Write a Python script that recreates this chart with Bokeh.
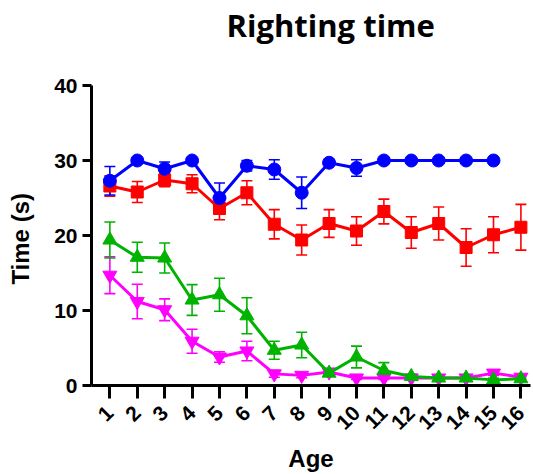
from bokeh.plotting import figure
from bokeh.models import (Range1d, FixedTicker, ColumnDataSource, Whisker, TeeHead, LinearAxis)
from bokeh.embed import file_html
from bokeh.resources import INLINE
import math

# ---- data ----
ages = [1, 2, 3, 4, 5, 6, 7, 8, 9, 10, 11, 12, 13, 14, 15, 16]

blue_ages = ages[:15]
blue = [27.3, 30.0, 28.9, 30.0, 25.0, 29.3, 28.8, 25.7, 29.7, 29.0, 30.0, 30.0, 30.0, 30.0, 30.0]
blue_err = [1.9, 0.0, 0.9, 0.0, 2.0, 0.7, 1.3, 2.1, 0.0, 1.1, 0.0, 0.0, 0.0, 0.0, 0.0]

red = [26.6, 25.8, 27.4, 26.9, 23.6, 25.7, 21.5, 19.4, 21.6, 20.6, 23.2, 20.4, 21.6, 18.4, 20.1, 21.1]
red_err = [1.35, 1.4, 0.9, 1.2, 1.5, 1.6, 1.95, 2.0, 1.85, 1.9, 1.65, 2.1, 2.2, 2.5, 2.4, 3.05]

green = [19.4, 17.1, 17.0, 11.4, 12.1, 9.3, 4.7, 5.4, 1.65, 3.8, 2.0, 1.2, 1.0, 1.0, 0.75, 0.9]
green_err = [2.4, 2.0, 2.0, 2.05, 2.2, 2.4, 1.2, 1.7, 0.3, 1.45, 1.05, 0.3, 0.2, 0.2, 0.2, 0.2]

magenta = [14.7, 11.2, 10.1, 5.9, 3.8, 4.6, 1.55, 1.35, 1.8, 1.0, 1.0, 1.0, 1.0, 1.0, 1.65, 1.1]
magenta_err = [2.45, 2.3, 1.45, 1.6, 0.7, 1.3, 0.45, 0.3, 0.3, 0.2, 0.2, 0.2, 0.2, 0.2, 0.3, 0.2]

y_ticks = [0, 10, 20, 30, 40]

FONT = "Liberation Sans"

p = figure(width=533, height=474, output_backend="svg", toolbar_location=None,
           x_range=Range1d(0.33, 16.35), y_range=Range1d(0, 40),
           min_border_left=91, min_border_right=3, min_border_top=85, min_border_bottom=89,
           title="Righting time")
p.outline_line_color = None
p.xgrid.visible = False
p.ygrid.visible = False

xax = p.below[0]
yax = p.left[0]

for ax in (xax, yax):
    ax.axis_line_width = 3
    ax.axis_line_color = "black"
    ax.major_tick_line_width = 3
    ax.major_tick_line_color = "black"
    ax.minor_tick_line_color = None
    ax.major_tick_in = 0
    ax.major_label_text_font = FONT
    ax.major_label_text_font_style = "bold"
    ax.major_label_text_font_size = "21px"
    ax.major_label_text_color = "black"
    ax.axis_label_text_font = FONT
    ax.axis_label_text_font_style = "bold"
    ax.axis_label_text_font_size = "24px"
    ax.axis_label_text_color = "black"

xax.ticker = FixedTicker(ticks=ages)
xax.major_tick_out = 13
xax.major_label_orientation = math.pi / 4
xax.major_label_standoff = 11
xax.axis_label = "Age"
xax.axis_label_standoff = 6

yax.ticker = FixedTicker(ticks=y_ticks)
yax.major_tick_out = 9
yax.major_label_standoff = 5
yax.axis_label = "Time  (s)"
yax.axis_label_standoff = 17

# invisible spacer between the frame and the title
spacer = LinearAxis(ticker=FixedTicker(ticks=[8]), axis_line_color=None,
                    major_tick_line_color=None, minor_tick_line_color=None,
                    major_tick_in=0, major_tick_out=40, minor_tick_out=0,
                    major_label_standoff=0, major_label_text_font_size="1px",
                    major_label_text_alpha=0)
p.add_layout(spacer, "above")

p.title.align = "left"
p.title.offset = 135
p.title.vertical_align = "bottom"
p.title.text_font = "Open Sans"
p.title.text_font_style = "bold"
p.title.text_font_size = "31px"
p.title.text_color = "black"
p.title.standoff = 0

def series(xs, ys, errs, color, marker, size):
    src = ColumnDataSource(dict(x=xs, y=ys,
                                upper=[a + b for a, b in zip(ys, errs)],
                                lower=[a - b for a, b in zip(ys, errs)]))
    w = Whisker(base="x", upper="upper", lower="lower", source=src,
                line_color=color, line_width=1.6,
                upper_head=TeeHead(size=11, line_color=color, line_width=1.6),
                lower_head=TeeHead(size=11, line_color=color, line_width=1.6))
    p.add_layout(w)
    p.line("x", "y", source=src, line_color=color, line_width=3)
    p.scatter("x", "y", source=src, marker=marker, size=size,
              fill_color=color, line_color=color)

series(ages, magenta, magenta_err, "#ff00ff", "inverted_triangle", 14)
series(ages, green, green_err, "#00b300", "triangle", 14)
series(ages, red, red_err, "#ff0000", "square", 12)
series(blue_ages, blue, blue_err, "#0000ff", "circle", 13)

open("out.html", "w").write(file_html(p, INLINE))
